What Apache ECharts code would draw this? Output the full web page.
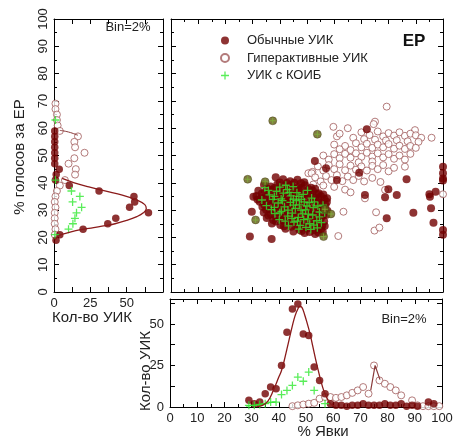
<!DOCTYPE html>
<html><head><meta charset="utf-8">
<script src="https://cdn.jsdelivr.net/npm/echarts@6/dist/echarts.min.js"></script>
<style>html,body{margin:0;padding:0;background:#fff}#c{width:456px;height:442px}</style>
</head><body><div id="c"></div>
<script>
// ---------- DATA ----------
const seriesNames = ['Обычные УИК', 'Гиперактивные УИК', 'УИК с КОИБ'];
const pctTicks = [0,10,20,30,40,50,60,70,80,90,100];
const countTicksLeft = [0,25,50];
const countTicksBottom = [0,25,50];

// main scatter: [% turnout, % votes for ER]
const ordinaryMain = [
[38.5,42],[41.2,41.3],[43.8,40.6],[46.5,41.1],[49,40.2],
[34.2,39.3],[36.6,38.6],[39.1,39.5],[41.7,38.8],[44.2,39.2],[46.8,38.5],[49.3,39.1],[51.5,38.2],
[32.1,37.1],[34.6,36.5],[37.2,37.4],[39.6,36.7],[42.1,37.3],[44.7,36.6],[47.1,37.2],[49.6,36.4],[52.2,37],[54.3,36.2],
[31.4,35.2],[33.2,34.4],[35.7,35.3],[38.1,34.6],[40.6,35.4],[43.2,34.7],[45.6,35.5],[48.1,34.6],[50.7,35.3],[53.1,34.5],[55.2,35.1],[57.4,34.3],
[32.6,33.1],[35.1,32.4],[37.6,33.3],[40.2,32.5],[42.6,33.2],[45.1,32.3],[47.7,33.1],[50.1,32.4],[52.6,33.3],[55.1,32.6],[57.3,33],
[33.6,31.2],[36.1,30.5],[38.6,31.3],[41.1,30.6],[43.6,31.4],[46.2,30.5],[48.6,31.2],[51.1,30.4],[53.7,31.3],[56.2,30.6],
[34.1,29.1],[36.7,28.4],[39.1,29.2],[41.6,28.5],[44.2,29.3],[46.6,28.6],[49.2,29.2],[51.6,28.3],[54.1,29.1],[57.2,28.3],
[35.2,27.1],[37.6,26.4],[40.1,27.2],[42.7,26.5],[45.1,27.3],[47.6,26.4],[50.2,27.1],[52.6,26.3],[55.1,27],
[37.1,25.1],[40.2,24.5],[43.1,25.2],[45.6,24.4],[48.1,25.1],[50.6,24.3],[53.1,25],[55.6,24.3],
[42.1,23.2],[47.2,22.8],[50.1,23.3],[52.6,22.6],[55.2,23.1],
[49.1,21.6],[54.2,21.8],
[40,40.1],[42.6,39.9],[45.3,40],[47.8,39.8],
[35.4,37.9],[38,38.1],[40.4,37.8],[43,38],[45.5,37.7],[48,38],[50.6,37.6],[53,37.8],
[33.4,36.1],[36,35.8],[38.5,36.2],[41,35.9],[43.6,36.1],[46,35.7],[48.7,36],[51.2,35.8],[53.7,35.9],[56,35.7],
[31.8,33.9],[34.2,34],[36.6,33.8],[39.1,34],[41.6,33.7],[44.1,34.1],[46.7,33.8],[49.2,34],[51.6,33.7],[54.1,33.9],[56.4,34.1],
[34.3,32],[36.8,31.8],[39.3,32.1],[41.9,31.9],[44.3,32.1],[46.9,31.7],[49.3,32],[51.8,31.8],[54.3,32.1],[56.8,31.9],
[35,30.1],[37.5,29.8],[40,30],[42.4,29.9],[45,30.2],[47.4,29.8],[50,30.1],[52.4,29.8],[55,30],[57.5,29.8],
[35.8,28],[38.4,27.8],[40.9,28.1],[43.4,27.9],[45.9,28],[48.3,27.7],[50.9,28],[53.4,27.8],[55.9,28.1],
[38.6,25.8],[41.2,26.1],[43.8,25.9],[46.3,26],[48.9,25.7],[51.3,26],[53.9,25.8],[56.3,25.9],
[41.5,24.1],[44.2,23.9],[46.7,24],[49.2,23.8],[51.8,24],[54.2,23.9],[56.5,24.2],
[45,22.2],[48,22.3],[51,22],[53,21.2],[55.8,22],
[29,20.3],[37,19.4],[29.7,29.4],[30.3,34.9],[52.9,48],[57,45.3],[69.2,43.7],[61,41],[72,59.6],
[86.6,41.3],[79.9,37.6],[78.7,34.7],[83,35.5],[71.3,35.5],[89.1,29],[79.3,27],
[95,35.8],[95.2,34.9],[97.3,36.7],[95.6,30.7],[96.5,25.4],
[100,45.9],[100,43.5],[100,41.6],[100,40.8],[100,22.7],[100,21]
];
const hyperMain = [
[59.7,60.5],[65,60],[75,62.4],[79.3,67.9],[89.7,59.3],[95.8,56.5],[61,57],[74.5,61.5],
[62,58],[70,58.5],[73,57.5],[76,58.8],[78,57],[80,58.2],[82,57.3],[84,58.5],[86,57.2],[88,58],[90,57.4],[92,56.5],
[67,56.5],[71,56],[75,55.8],[79,55.5],[83,55.6],[87,55.2],[91,55],
[60,54],[64,53.5],[68,54.5],[70,53],[72,54.3],[74,52.8],[76,54],[78,53],[80,54.2],[82,52.5],[84,53.6],[86,52.4],[88,53.5],[90,52.8],[66,52],[62,52.3],
[56,50],[58,48.5],[60,50.5],[62,49],[64,50.6],[66,49.2],[68,50.8],[70,49.5],[72,51],[74,49.6],[76,50.8],[78,49.3],[80,50.5],[82,48.8],[84,50],[86,48.5],[88,50.6],[74,47.8],[69,47.5],
[54,46],[56,44.5],[58,46.5],[60,45],[62,46.8],[64,44.6],[66,46.3],[68,44.8],[70,46],[72,44.5],[74,46.2],[76,45],[78,46.5],[80,44.2],[82,45.5],[86,45.9],[52,44],
[50.5,43.5],[51.7,43.5],[53,42],[55,40.5],[57,42.5],[59,41],[61,42.8],[63,40.6],[65,42.3],[67,41],[69,42.5],[71,40.5],[74,41.8],[77,40.3],[52.3,39.4],[56,39],
[60,38.5],[64,37.5],[71.3,34.3],[78.7,37.4],[66,36.5],[100,35.8],
[63.4,29.4],[61.5,20.5],[75.4,29.2],[74.8,22.5],[76.6,23.6]
];
const koibMain = [
[34.5,38.2],[36.2,35.6],[38.8,36.9],[40.5,34.1],[42.8,37.5],[44.1,35.2],[46.3,36.4],[47.9,33.9],
[39.4,32.6],[41.7,31.2],[43.9,32.8],[45.7,30.6],[47.2,31.9],[49.5,30.1],[50.8,32.7],[52.3,30.9],
[36.9,30.2],[38.2,28.7],[40.6,29.5],[42.9,27.8],[44.6,28.9],[46.8,27.3],[48.4,28.6],[50.3,26.8],
[52.1,28.2],[53.6,26.1],[45.2,25.6],[47.5,24.4],[49.6,23.7],[51.4,22.9],[53.8,23.5],[55.3,25.4],
[48.6,35.8],[50.2,37.2],[33.4,33.7],[35.1,31.6],[42.2,39.1],[44.9,38.6],[54.6,29.3],[55.9,31.8],
[37.5,33.9],[41.3,36.2],[46.1,33.5],[51.7,34.4],[39.8,26.5],[43.2,24.2],
[35.8,37.2],[38,35],[40,38.4],[43.5,36.5],[45,34],[47,35],[49,33],[41,33.5],[43,30],[45,31.8],
[47.8,30],[50,31.5],[52.7,33],[54,31.5],[38,31],[40,29],[42,26],[44.5,27],[46.5,26],[48.8,26.5],
[51,25],[52.5,24.5],[50.5,28.5],[47,23],[54.6,27.5],[56.5,29]
];
const koibOliveMain = [[28.2,41.3],[31.1,26.4],[34.6,40.4],[37.4,62.7],[53.8,57.8],[56.6,30.3],[58.8,28.6],[56.1,20.3]];

// left histogram: [count, % votes]
const leftOrdinary = [[1.4,19],[4,21],[20,23],[37,25],[42.5,27],[65,29],[52,31],[55.5,33],[55,35],[31,37],[10.5,39],[1,41],[1.5,43],[3.6,45],[0.5,47],[0.5,49],[0.5,51],[0.5,53],[0.5,55],[0.5,57],[0.5,59]];
const leftHyper = [[1,69],[1,67],[2,65],[2,63],[2.5,61],[4,59],[16.5,57],[14,55],[14.5,53],[21,51],[14,49],[10,47],[15,45],[14.5,43],[7.5,41],[4,39],[2,37],[1,35],[0.5,33],[1,31],[0.5,29],[0.5,27],[0.5,25],[1,23],[0.5,21]];
const leftKoib = [[1,63],[1,41],[12,37],[17.8,35],[12.8,33],[19,31],[15.5,29],[14.4,27],[13,25],[10,23],[0.7,21]];
const leftOrdinaryFit = [[0.7,19],[3,20.5],[8,21.5],[15,22.5],[24,23.3],[33,24.1],[42,25],[50,26.2],[57,27.6],[61.5,29],[63.5,30.5],[62.5,32],[57,33.7],[47,35.5],[35,37],[24,38.5],[14,40],[5.6,41.6]];
const leftHyperFit = [[4,59.2],[10,58.6],[16.5,57.4]];

// bottom histogram: [% turnout, count]
const botOrdinary = [[29,4],[31,2],[33,3],[35,8],[37,12],[39,11],[41,25],[43,45],[45,59],[47,62],[49,44],[51,43],[53,24],[55,16],[57,8],[59,2],[61,1],[63,1],[65,0.5],[67,1],[69,1],[71,2],[73,1],[75,1],[77,1],[79,2],[81,1],[83,1],[85,2],[87,0.5],[89,1],[91,0.5],[95,3],[97,2]];
const botHyper = [[45,0.5],[47,1],[49,1.5],[51,2],[53,2.5],[55,5],[57,6],[59,6],[61,5.5],[63,6],[65,7],[67,8.5],[69,10],[71,12],[73,8],[75,25],[77,16],[79,14],[81,12],[83,10],[85,7],[89,4],[91,1],[93,0.5],[95,0.5],[97,0.5],[99,0.5]];
const botKoib = [[29,1],[31,1],[33,1.5],[35,2],[37,3],[39,3],[41,7.5],[43,10],[45,13],[47,18],[49,15.5],[51,21],[53,10],[57,2]];
const botKoibFit = [[28,0.5],[31,1],[33,1.5],[35,2],[37,2.8],[39,3]];
const botOrdinaryFit = [[32,0.3],[34,1],[36,3.5],[38,10],[40,18],[41,22],[42,28],[43,35],[44,42],[45,49],[46,55],[47,59],[47.7,60.5],[48.5,60],[49.5,55.5],[50.5,50],[51.5,44],[52.5,36.5],[53.5,29],[54.5,22],[55.5,15.5],[56.5,10],[57.5,6],[58.5,3],[59.5,1.2],[61,0.3]];
const botHyperFit = [[73.8,10],[75.4,25],[77.2,16.5]];

// ---------- STYLE ----------
const FONT = 'Liberation Sans, Arial, sans-serif';
const RED = '#720000';
const HOLLOW = '#a05a5a';
const GREEN = '#2fe82f';
const OLIVE = '#625a14';
const PLUS = 'path://M4.2,0H5.8V4.2H10V5.8H5.8V10H4.2V5.8H0V4.2H4.2Z';
const axisLineS = {show:true, onZero:false, lineStyle:{color:'#000', width:1}};
const tickS = {show:true, inside:true, length:5, lineStyle:{color:'#000'}};
const minorS = {show:true, splitNumber:2, length:3, lineStyle:{color:'#000'}};
const lblS = {color:'#222', fontSize:13, fontFamily:FONT};

function ax(o){ return Object.assign({type:'value', splitLine:{show:false}, axisLine:axisLineS, axisTick:tickS}, o); }

const chart = echarts.init(document.getElementById('c'), null, {renderer:'canvas'});
chart.setOption({
  animation:false,
  backgroundColor:'#fff',
  textStyle:{fontFamily:FONT},
  grid:[
    {left:54, top:19, width:109, height:273, outerBoundsMode:'none'},
    {left:171, top:19, width:272, height:273, outerBoundsMode:'none'},
    {left:170, top:299, width:272, height:108, outerBoundsMode:'none'}
  ],
  xAxis:[
    ax({gridIndex:0, position:'bottom', min:0, max:75, interval:12.5,
        axisLabel:Object.assign({margin:5, formatter:v=>countTicksLeft.includes(v)?String(v):''}, lblS)}),
    ax({gridIndex:0, position:'top', min:0, max:75, interval:12.5, axisLabel:{show:false}}),
    ax({gridIndex:1, position:'bottom', min:0, max:100, interval:10, minorTick:minorS, axisLabel:{show:false}}),
    ax({gridIndex:1, position:'top', min:0, max:100, interval:10, minorTick:minorS, axisLabel:{show:false}}),
    ax({gridIndex:2, position:'bottom', min:0, max:100, interval:10, minorTick:minorS,
        axisLabel:Object.assign({margin:5, formatter:v=>pctTicks.includes(v)?String(v):''}, lblS)}),
    ax({gridIndex:2, position:'top', min:0, max:100, interval:10, minorTick:minorS, axisLabel:{show:false}})
  ],
  yAxis:[
    ax({gridIndex:0, position:'left', min:0, max:100, interval:10, minorTick:minorS,
        axisLabel:Object.assign({margin:4, rotate:90, formatter:v=>pctTicks.includes(v)?String(v):''}, lblS)}),
    ax({gridIndex:0, position:'right', min:0, max:100, interval:10, minorTick:minorS, axisLabel:{show:false}}),
    ax({gridIndex:1, position:'left', min:0, max:100, interval:10, minorTick:minorS, axisLabel:{show:false}}),
    ax({gridIndex:1, position:'right', min:0, max:100, interval:10, minorTick:minorS, axisLabel:{show:false}}),
    ax({gridIndex:2, position:'left', min:0, max:65, interval:12.5,
        axisLabel:Object.assign({margin:6, formatter:v=>countTicksBottom.includes(v)?String(v):''}, lblS)}),
    ax({gridIndex:2, position:'right', min:0, max:65, interval:12.5, axisLabel:{show:false}})
  ],
  legend:{
    orient:'vertical', left:215, top:29, itemWidth:30, itemHeight:8, itemGap:4.5,
    symbolKeepAspect:true,
    textStyle:{fontSize:13, fontFamily:FONT, color:'#222', lineHeight:13, padding:[0,0,0,2]},
    data:seriesNames, selectedMode:false
  },
  series:[
    // main scatter
    {name:seriesNames[1], type:'scatter', xAxisIndex:2, yAxisIndex:2, data:hyperMain, symbol:'circle', symbolSize:7, clip:false,
      itemStyle:{color:'#fff', borderColor:HOLLOW, borderWidth:1}},
    {name:seriesNames[0], type:'scatter', xAxisIndex:2, yAxisIndex:2, data:ordinaryMain, symbol:'circle', symbolSize:8, clip:false,
      itemStyle:{color:RED}},
    {name:seriesNames[2], type:'scatter', xAxisIndex:2, yAxisIndex:2, data:koibMain, symbol:PLUS, symbolSize:8, clip:false,
      itemStyle:{color:GREEN}},
    {name:'olive', type:'scatter', xAxisIndex:2, yAxisIndex:2, data:koibOliveMain, symbol:'circle', symbolSize:8, clip:false,
      itemStyle:{color:OLIVE, borderColor:'#3e3a0c', borderWidth:0.5}},
    {name:'olivePlus', type:'scatter', xAxisIndex:2, yAxisIndex:2, data:koibOliveMain, symbol:PLUS, symbolSize:6, clip:false,
      itemStyle:{color:'#7fb838'}},
    // left histogram
    {name:'lh', type:'scatter', xAxisIndex:0, yAxisIndex:0, data:leftHyper, symbol:'circle', symbolSize:7, clip:false,
      itemStyle:{color:'#fff', borderColor:HOLLOW, borderWidth:1}},
    {name:'lhf', type:'line', xAxisIndex:0, yAxisIndex:0, data:leftHyperFit, showSymbol:false, smooth:true,
      lineStyle:{color:'#8a3a3a', width:1}},
    {name:'lof', type:'line', xAxisIndex:0, yAxisIndex:0, data:leftOrdinaryFit, showSymbol:false, smooth:0.4,
      lineStyle:{color:'#8a1a1a', width:1.3}},
    {name:'lo', type:'scatter', xAxisIndex:0, yAxisIndex:0, data:leftOrdinary, symbol:'circle', symbolSize:7.5, clip:false,
      itemStyle:{color:RED}},
    {name:'lk', type:'scatter', xAxisIndex:0, yAxisIndex:0, data:leftKoib, symbol:PLUS, symbolSize:8, clip:false,
      itemStyle:{color:GREEN}},
    // bottom histogram
    {name:'bh', type:'scatter', xAxisIndex:4, yAxisIndex:4, data:botHyper, symbol:'circle', symbolSize:7, clip:false,
      itemStyle:{color:'#fff', borderColor:HOLLOW, borderWidth:1}},
    {name:'bhf', type:'line', xAxisIndex:4, yAxisIndex:4, data:botHyperFit, showSymbol:false,
      lineStyle:{color:'#8a3a3a', width:1.2}},
    {name:'bkf', type:'line', xAxisIndex:4, yAxisIndex:4, data:botKoibFit, showSymbol:false,
      lineStyle:{color:GREEN, width:1}},
    {name:'bof', type:'line', xAxisIndex:4, yAxisIndex:4, data:botOrdinaryFit, showSymbol:false, smooth:0.4,
      lineStyle:{color:'#8a1a1a', width:1.3}},
    {name:'bo', type:'scatter', xAxisIndex:4, yAxisIndex:4, data:botOrdinary, symbol:'circle', symbolSize:7.5, clip:false,
      itemStyle:{color:RED}},
    {name:'bk', type:'scatter', xAxisIndex:4, yAxisIndex:4, data:botKoib, symbol:PLUS, symbolSize:8, clip:false,
      itemStyle:{color:GREEN}}
  ],
  graphic:[
    {type:'text', x:128, y:27, style:{text:'Bin=2%', font:'13px '+FONT, fill:'#222', align:'center', verticalAlign:'middle'}},
    {type:'text', x:404, y:319, style:{text:'Bin=2%', font:'13px '+FONT, fill:'#222', align:'center', verticalAlign:'middle'}},
    {type:'text', x:414, y:41, style:{text:'ЕР', font:'bold 17px '+FONT, fill:'#111', align:'center', verticalAlign:'middle'}},
    {type:'text', x:20, y:157, rotation:Math.PI/2, style:{text:'% голосов за ЕР', font:'15px '+FONT, fill:'#222', align:'center', verticalAlign:'middle'}},
    {type:'text', x:92, y:318, style:{text:'Кол-во УИК', font:'15px '+FONT, fill:'#222', align:'center', verticalAlign:'middle'}},
    {type:'text', x:146, y:371, rotation:Math.PI/2, style:{text:'Кол-во УИК', font:'15px '+FONT, fill:'#222', align:'center', verticalAlign:'middle'}},
    {type:'text', x:323, y:432, style:{text:'% Явки', font:'15px '+FONT, fill:'#222', align:'center', verticalAlign:'middle'}}
  ]
});
</script></body></html>
